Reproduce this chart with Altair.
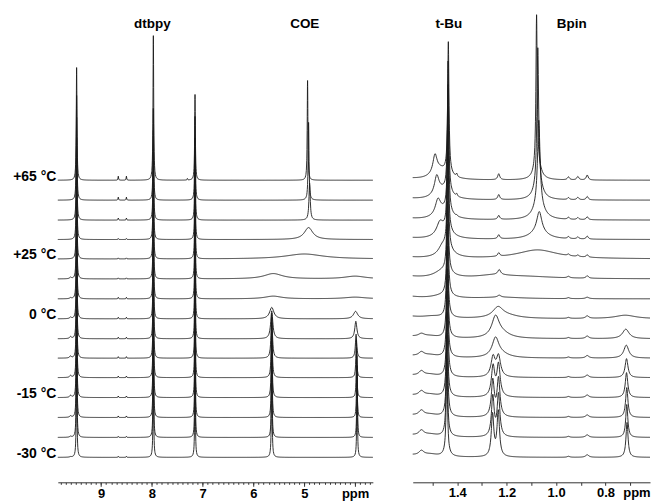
import numpy as np
import pandas as pd
import altair as alt

FONT = "Liberation Sans"
INK = "#1a1a1a"

# ---------------- shared: traces ----------------
temps = ["+65 °C", "", "", "", "+25 °C", "", "", "0 °C", "", "", "", "-15 °C", "", "", "-30 °C"]
offsets = [303, 283, 263, 243.5, 224, 204, 184, 164, 144, 124.5, 105, 85, 65, 45, 25]

# ---------------- left panel (aromatic / COE region) ----------------
left_domain = [3.65, 9.85]
sharp_ppm = [9.48, 7.97, 7.15]
sharp_w = 0.008
h_948 = [113, 105, 103, 102, 100, 100, 100, 100, 100, 100, 100, 100, 100, 100, 98]
h_797 = [145, 92, 90, 90, 88, 88, 88, 88, 88, 88, 88, 88, 88, 88, 85]
h_715 = [86, 84, 83, 82, 82, 82, 82, 82, 82, 82, 82, 82, 82, 82, 80]
small_ppm = [8.66, 8.50]
h_small = [4, 3, 2, 1, 1, 1, 1.5, 1.5, 1.5, 1.5, 1.5, 1.5, 1.5, 1, 1]
h_960 = [0, 0, 0, 0, 0, 1.5, 1, 1.5, 2, 2, 2, 2, 1.5, 1, 0.5]
coe_peaks = [
    [(4.935, 100, 0.008), (7.30, 1.5, 0.006)],
    [(4.915, 78, 0.010)],
    [(4.895, 37, 0.015)],
    [(4.915, 12, 0.10)],
    [(5.00, 5, 0.45)],
    [(5.61, 5.3, 0.22), (4.00, 2.7, 0.25)],
    [(5.61, 2.7, 0.20), (4.00, 1.7, 0.25)],
    [(5.64, 11.5, 0.05), (3.99, 7.5, 0.05)],
    [(5.64, 28, 0.025), (3.985, 17.5, 0.025)],
    [(5.64, 45, 0.016), (3.98, 24, 0.016)],
    [(5.64, 60, 0.012), (3.975, 38, 0.011)],
    [(5.64, 75, 0.010), (3.97, 50, 0.009)],
    [(5.64, 85, 0.009), (3.965, 62, 0.008)],
    [(5.64, 95, 0.008), (3.96, 72, 0.008)],
    [(5.64, 100, 0.008), (3.96, 80, 0.008)],
]
left_headers = ["dtbpy", "COE"]
left_header_ppm = [7.99, 4.99]
left_ticks_minor = 0.1
left_major = [9, 8, 7, 6, 5, 4]
left_label_ppm_at = 4

# ---------------- right panel (aliphatic region) ----------------
right_domain = [0.62, 1.58]
tbu_pos = [1.436, 1.437, 1.437, 1.438, 1.438, 1.439, 1.439, 1.44, 1.44, 1.44, 1.44, 1.441, 1.441, 1.442, 1.442]
tbu_h = [127, 126, 122, 118, 116, 114, 112, 110, 108, 105, 102, 100, 98, 95, 92]
tbu_w = 0.003
wing_h = [2, 2, 2, 2, 2, 3, 3, 3, 3, 3, 3, 3, 3, 3, 3]
right_peaks = [
    [(1.49, 18, 0.010), (1.47, 10, 0.035), (1.402, 3, 0.003), (1.232, 6, 0.005), (1.079, 150, 0.003),
     (1.075, 17, 0.015), (0.95, 3, 0.005), (0.912, 3.5, 0.005), (0.874, 5, 0.005)],
    [(1.483, 18, 0.011), (1.46, 9, 0.035), (1.402, 2.5, 0.003), (1.232, 5, 0.005), (1.074, 135, 0.004),
     (1.072, 18, 0.018), (0.95, 2, 0.005), (0.912, 2.5, 0.005), (0.874, 3.5, 0.005)],
    [(1.478, 15, 0.013), (1.455, 8, 0.035), (1.402, 1, 0.003), (1.232, 4, 0.005), (1.07, 85, 0.006),
     (1.07, 15, 0.025), (0.95, 2, 0.005), (0.912, 2, 0.005), (0.874, 3, 0.005)],
    [(1.47, 12, 0.016), (1.45, 7, 0.035), (1.232, 4, 0.005), (1.068, 20, 0.012), (1.07, 8, 0.04),
     (0.95, 2, 0.005), (0.912, 2, 0.005), (0.874, 3, 0.005)],
    [(1.46, 8, 0.02), (1.44, 6, 0.035), (1.232, 3.5, 0.005), (1.075, 9, 0.10),
     (0.95, 1.5, 0.005), (0.912, 1.5, 0.005), (0.874, 2.5, 0.005)],
    [(1.46, 7, 0.04), (1.23, 5, 0.007), (1.25, 3, 0.08), (1.12, 2, 0.15), (0.95, 1.5, 0.006), (0.874, 2.5, 0.006)],
    [(1.46, 3, 0.05), (1.23, 2, 0.008), (1.22, 1.5, 0.10), (0.95, 1, 0.006), (0.874, 1.5, 0.008)],
    [(1.50, 2, 0.05), (1.235, 10, 0.025), (1.20, 3, 0.06), (0.95, 1, 0.006), (0.874, 2.5, 0.008), (0.72, 3.5, 0.05)],
    [(1.545, 3, 0.015), (1.51, 2, 0.04), (1.245, 20, 0.018), (1.22, 5, 0.04), (0.95, 1, 0.006),
     (0.874, 2.5, 0.008), (0.718, 9.5, 0.016)],
    [(1.545, 4, 0.013), (1.51, 2.5, 0.04), (1.245, 18, 0.016), (1.225, 4, 0.04), (0.95, 1, 0.006),
     (0.874, 2.5, 0.008), (0.716, 13, 0.012)],
    [(1.545, 4.5, 0.012), (1.51, 2.5, 0.04), (1.255, 19.5, 0.010), (1.233, 20.5, 0.010), (0.95, 1, 0.006),
     (0.874, 2.5, 0.008), (0.715, 19, 0.007)],
    [(1.545, 4.5, 0.012), (1.51, 2.5, 0.04), (1.255, 30, 0.008), (1.233, 32, 0.008), (0.95, 1, 0.006),
     (0.874, 2.5, 0.008), (0.715, 25, 0.006)],
    [(1.545, 5, 0.012), (1.51, 2.5, 0.04), (1.256, 36, 0.007), (1.233, 38, 0.007), (0.95, 1, 0.006),
     (0.874, 2.5, 0.008), (0.714, 30, 0.0055)],
    [(1.545, 5, 0.012), (1.51, 2.5, 0.04), (1.256, 40, 0.0065), (1.233, 42, 0.0065), (0.95, 1, 0.006),
     (0.874, 2.5, 0.008), (0.714, 33, 0.005)],
    [(1.545, 4.5, 0.012), (1.51, 2.5, 0.04), (1.257, 42, 0.006), (1.234, 45, 0.006), (0.95, 1, 0.006),
     (0.874, 2.5, 0.008), (0.713, 35, 0.005)],
]
right_headers = ["t-Bu", "Bpin"]
right_header_ppm = [1.434, 0.937]
right_ticks_step = 0.1
right_major = [1.4, 1.2, 1.0, 0.8]
right_label_ppm_at = 0.675

# ---------------- build line shapes (Lorentzian sums of the peak lists) ----------------
T = np.array([0, 0.25, 0.5, 0.75, 1, 1.5, 2, 3, 4, 6, 8, 12, 16, 24, 32])


def lorentz(x, c, h, w):
    return h * w * w / ((x - c) ** 2 + w * w)


def spectrum(lo, hi, step, peaks, offset, trace):
    g = list(np.arange(lo, hi + step / 2, step))
    for c, h, w in peaks:
        if h >= 6 and w < 0.03:
            g += list(c + w * T) + list(c - w * T)
    x = np.unique(np.round(np.clip(g, lo, hi), 5))
    y = np.full_like(x, float(offset))
    for c, h, w in peaks:
        y = y + lorentz(x, c, h, w)
    return pd.DataFrame({"ppm": x, "int": np.round(y, 2), "trace": trace})


left_frames, right_frames = [], []
for i in range(len(offsets)):
    pk = [(sharp_ppm[0], h_948[i], sharp_w), (sharp_ppm[1], h_797[i], sharp_w), (sharp_ppm[2], h_715[i], sharp_w)]
    pk += [(p, h_small[i], 0.006) for p in small_ppm]
    if h_960[i] > 0:
        pk.append((9.60, h_960[i], 0.02))
    pk += coe_peaks[i]
    left_frames.append(spectrum(left_domain[0], left_domain[1], 0.01, pk, offsets[i], i))

    pk = [(tbu_pos[i], tbu_h[i], tbu_w), (tbu_pos[i], 6, 0.012), (1.62, wing_h[i], 0.06)]
    pk += right_peaks[i]
    right_frames.append(spectrum(right_domain[0], right_domain[1], 0.002, pk, offsets[i], i))

left_df = pd.concat(left_frames, ignore_index=True)
right_df = pd.concat(right_frames, ignore_index=True)

H = 478
yscale = alt.Scale(domain=[0, H], nice=False, zero=False)

temp_expr = ""
for off, t in zip(offsets, temps):
    if t:
        temp_expr += f"abs(datum.value-{off})<0.01 ? '{t}' : "
temp_expr += "''"
temp_vals = [o for o, t in zip(offsets, temps) if t]

label_style = dict(labelFont=FONT, labelFontWeight="bold", labelFontSize=13, labelColor="black",
                   labelOverlap=False, title=None, grid=False)
tick_axis_style = dict(title=None, grid=False, labels=False, domainColor="#333", domainWidth=1,
                       tickColor="#333")

header_style = dict(font=FONT, fontWeight="bold", fontSize=13.5, baseline="alphabetic",
                    align="center", color="black")

# ---- left panel: minor-tick axis on the lines, labelled major axis on the headers ----
left_ticks = [round(v, 1) for v in np.arange(3.7, 9.85, left_ticks_minor)]
left_label_expr = f"abs(datum.value-{left_label_ppm_at})<0.01 ? 'ppm' : format(datum.value,'d')"
left_scale = alt.Scale(domain=left_domain, reverse=True, nice=False, zero=False)

left_lines = alt.Chart(left_df).mark_line(color=INK, strokeWidth=0.9).encode(
    x=alt.X("ppm:Q", scale=left_scale,
            axis=alt.Axis(values=left_ticks, tickSize=2, orient="bottom", **tick_axis_style)),
    y=alt.Y("int:Q", scale=yscale,
            axis=alt.Axis(values=temp_vals, labelExpr=temp_expr, title=None, domain=False, ticks=False,
                          tickSize=0, grid=False, labelPadding=2, labelFont=FONT, labelFontWeight="bold",
                          labelFontSize=14, labelColor="black", labelBaseline="alphabetic",
                          labelOverlap=False)),
    detail="trace:N",
)
left_text = alt.Chart(pd.DataFrame({"label": left_headers, "ppm": left_header_ppm})).mark_text(
    **header_style
).encode(
    x=alt.X("ppm:Q", scale=left_scale,
            axis=alt.Axis(values=left_major, labelExpr=left_label_expr, tickSize=4, orient="bottom",
                          domain=False, tickColor="#333", labelPadding=1, **label_style)),
    y=alt.value(22), text="label:N")
left = alt.layer(left_lines, left_text).resolve_axis(x="independent").properties(width=316, height=H)

# ---- right panel ----
right_ticks = [round(v, 1) for v in np.arange(0.7, 1.55, right_ticks_step)]
right_label_vals = right_major + [right_label_ppm_at]
right_label_expr = (f"abs(datum.value-{right_label_ppm_at})<0.01 ? 'ppm' : format(datum.value,'.1f')")
right_scale = alt.Scale(domain=right_domain, reverse=True, nice=False, zero=False)

right_lines = alt.Chart(right_df).mark_line(color=INK, strokeWidth=0.9).encode(
    x=alt.X("ppm:Q", scale=right_scale,
            axis=alt.Axis(values=right_ticks, tickSize=3, orient="bottom", **tick_axis_style)),
    y=alt.Y("int:Q", scale=yscale, axis=None),
    detail="trace:N",
)
right_text = alt.Chart(pd.DataFrame({"label": right_headers, "ppm": right_header_ppm})).mark_text(
    **header_style
).encode(
    x=alt.X("ppm:Q", scale=right_scale,
            axis=alt.Axis(values=right_label_vals, labelExpr=right_label_expr, ticks=False, tickSize=0,
                          orient="bottom", domain=False, labelPadding=4, **label_style)),
    y=alt.value(22), text="label:N")
right = alt.layer(right_lines, right_text).resolve_axis(x="independent").properties(width=238, height=H)

chart = alt.hconcat(left, right, spacing=40, bounds="flush").properties(
    padding={"left": 12, "top": 5, "right": 2, "bottom": 5},
    background="white",
).configure_view(stroke=None)

chart.save("out.html", embed_options={"renderer": "svg", "actions": False})
